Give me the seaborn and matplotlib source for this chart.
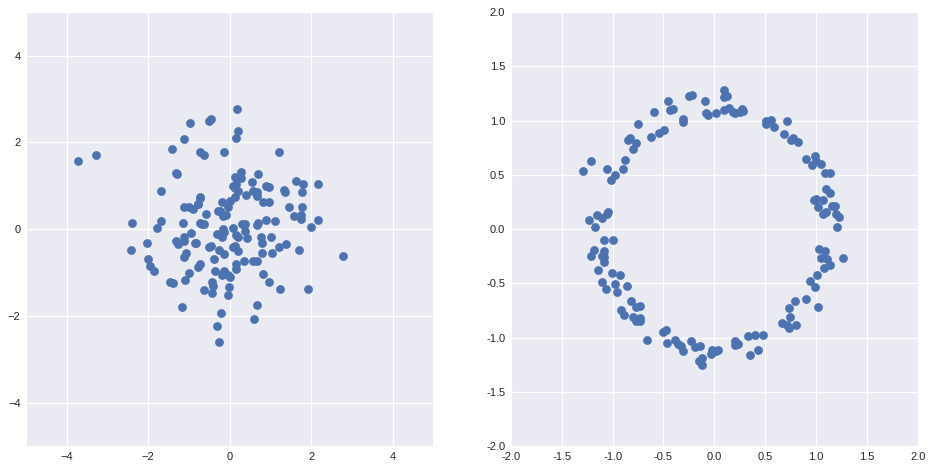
import matplotlib
matplotlib.use("Agg")
import matplotlib.pyplot as plt
import seaborn as sns

# Left panel: gaussian cloud
gauss_x = [-3.73, -3.28, -0.97, -1.12, -1.41, -0.72, -0.63, -1.33, -1.30, -1.68,
           -1.12, -1.00, -0.91, -0.79, -0.73, -2.39, -1.68, -1.14, -0.73,
           0.18, -0.52, -0.47, 0.20, 0.15, -0.14, 1.21, 0.28, 0.13, 0.28, 0.69,
           0.55, 0.08, 0.15, 0.13, 0.20, 0.39, 0.56, 0.66, 0.68, 0.88, 0.96,
           1.33, 1.36, 1.63, 1.80, 2.16, 1.77, 0.13, 0.00, -0.18, -0.05, -0.74,
           -0.78, -0.58, -0.29, -0.24, -0.16, -0.10, 0.82, 0.96, 1.45, 1.77,
           1.58, 1.76, 1.75, 2.16, 0.29, 0.37, 0.68, 0.70, 0.88, 1.11, 1.99,
           -0.69, -0.64, -0.16, -0.15, 0.07, -0.31, -0.20, -0.18, 0.15, 0.21,
           0.37, 0.43, 0.78, 0.80, 1.02, -0.83, -0.51, -0.47, -0.26, -0.14,
           0.08, 0.13, 0.21, 0.80, 1.05, 1.21, 1.38, 1.70, 2.78, -0.38, 0.35,
           0.57, 0.68, -0.74, -0.78, 0.15, 0.15, -0.36, -0.13, -0.18, -0.05,
           0.01, 0.82, 0.96, -0.44, -0.41, -0.63, -0.44, -0.02, -0.04, 1.23,
           1.92, 0.67, 0.60, -0.21, -0.31, -0.26, -1.78, -0.95, -2.03, -2.42,
           -1.33, -1.27, -1.12, -1.12, -0.85, -1.07, -1.12, -2.00, -1.95, -1.86,
           -1.00, -1.46, -1.40, -1.10, -1.17]
gauss_y = [1.58, 1.72, 2.44, 2.07, 1.84, 1.77, 1.70, 1.30, 1.28, 0.89,
           0.50, 0.50, 0.47, 0.57, 0.71, 0.15, 0.18, 0.13, 0.13,
           2.76, 2.49, 2.53, 2.26, 2.11, 1.77, 1.77, 1.31, 1.21, 1.17, 1.28,
           1.08, 1.00, 1.03, 0.95, 0.89, 0.78, 0.89, 0.86, 0.77, 1.00, 0.96,
           0.91, 0.86, 1.12, 1.03, 1.03, 0.85, 0.73, 0.65, 0.63, 0.51, 0.74,
           0.58, 0.36, 0.41, 0.41, 0.31, 0.32, 0.62, 0.62, 0.50, 0.52,
           0.30, 0.32, 0.23, 0.21, 0.12, 0.12, 0.10, 0.14, 0.22, 0.18, 0.04,
           0.12, 0.12, 0.00, -0.06, 0.02, -0.12, -0.19, -0.12, -0.14, -0.19,
           -0.04, -0.20, -0.18, -0.31, -0.19, -0.33, -0.41, -0.38, -0.49, -0.58,
           -0.42, -0.38, -0.51, -0.56, -0.56, -0.42, -0.35, -0.49, -0.61, -0.70, -0.74,
           -0.74, -0.74, -0.81, -0.88, -0.81, -0.91, -0.96, -0.96, -1.06, -1.06,
           -1.10, -1.04, -1.21, -1.21, -1.31, -1.41, -1.47, -1.34, -1.53, -1.37,
           -1.39, -1.76, -2.08, -1.94, -2.24, -2.61, 0.02, -0.08, -0.33, -0.49,
           -0.28, -0.35, -0.19, -0.27, -0.33, -0.54, -0.65, -0.68, -0.85, -0.97,
           -1.00, -1.21, -1.25, -1.18, -1.80]

# Right panel: noisy ring
ring_x = [-1.29, -1.21, -1.05, -0.98, -1.02, -0.90, -0.88, -0.80, -0.77, -0.85,
          -0.83, -0.75, -0.62, -0.59, -0.54, -0.49, -0.46, -0.44, -0.41, -0.31,
          -0.31, -0.25, -0.22, -0.09, -0.08, -0.06, 0.02, -1.23, -1.15, -1.10,
          -1.17, -1.05, -1.04, 0.09, 0.09, 0.12, 0.09, 0.14, 0.18, 0.20, 0.25,
          0.27, 0.28, 0.51, 0.56, 0.51, 0.59, 0.71, 0.68, 0.75, 0.77, 0.82,
          0.90, 0.96, 0.99, 1.00, 1.05, 1.09, 1.14, 1.10, 1.14, 0.98, 1.00,
          1.07, 1.02, 1.07, 1.10, 1.16, 1.18, 1.19, 1.22, 1.20, 1.03, 1.09,
          1.05, 1.11, 1.14, 1.08, 1.26, 1.01, 0.94, 0.99, 0.90, 0.79, 0.73,
          0.74, 1.02, 0.66, 0.71, 0.73, 0.80, 0.33, 0.40, 0.48, 0.20, 0.20,
          0.23, 0.43, 0.35, -0.03, 0.00, 0.04, -1.08, -1.00, -1.18, -1.21,
          -1.08, -1.10, -1.08, -1.08, -1.14, -1.01, -0.93, -1.10, -1.06, -0.98,
          -0.96, -0.86, -0.82, -0.77, -0.73, -0.92, -0.89, -0.80, -0.77, -0.73,
          -0.73, -0.66, -0.50, -0.48, -0.47, -0.39, -0.36, -0.33, -0.31, -0.23,
          -0.19, -0.14, -0.15, -0.12, -0.12, -0.02, 0.02]
ring_y = [0.54, 0.63, 0.55, 0.50, 0.45, 0.55, 0.64, 0.74, 0.79, 0.82,
          0.84, 0.97, 0.85, 1.08, 0.89, 0.91, 1.18, 1.10, 1.11, 1.02,
          0.99, 1.23, 1.24, 1.18, 1.07, 1.05, 1.07, 0.08, 0.13, 0.10,
          0.02, 0.14, 0.16, 1.28, 1.22, 1.23, 1.10, 1.12, 1.08, 1.07, 1.08,
          1.11, 1.09, 1.00, 1.01, 0.97, 0.94, 1.00, 0.88, 0.82, 0.84, 0.80,
          0.65, 0.59, 0.67, 0.63, 0.60, 0.52, 0.52, 0.37, 0.33, 0.27, 0.28,
          0.27, 0.20, 0.14, 0.16, 0.21, 0.21, 0.14, 0.11, 0.02, -0.18, -0.20,
          -0.27, -0.28, -0.33, -0.36, -0.27, -0.42, -0.48, -0.53, -0.64, -0.66, -0.73,
          -0.81, -0.72, -0.87, -0.88, -0.91, -0.88, -0.99, -0.98, -0.98, -1.03, -1.07,
          -1.06, -1.11, -1.16, -1.15, -1.12, -1.11, -0.10, -0.10, -0.19, -0.25,
          -0.20, -0.25, -0.26, -0.30, -0.38, -0.40, -0.42, -0.49, -0.55, -0.51,
          -0.58, -0.52, -0.66, -0.72, -0.71, -0.75, -0.79, -0.81, -0.85, -0.82,
          -0.85, -1.02, -0.95, -0.93, -1.05, -1.02, -1.06, -1.08, -1.12, -1.03,
          -1.09, -1.08, -1.22, -1.25, -1.19, -1.11, -1.12]

sns.set_style("darkgrid")
plt.rcParams["font.family"] = ["Liberation Sans", "DejaVu Sans"]

fig, (ax1, ax2) = plt.subplots(1, 2, figsize=(9.32, 4.70), dpi=100)
fig.subplots_adjust(left=0.028, right=0.985, bottom=0.051, top=0.974, wspace=0.19)

dot = "#4C72B0"
sns.scatterplot(x=gauss_x, y=gauss_y, ax=ax1, color=dot, s=40, linewidth=0)
sns.scatterplot(x=ring_x, y=ring_y, ax=ax2, color=dot, s=40, linewidth=0)

ax1.set_xlim(-5, 5)
ax1.set_ylim(-5, 5)
ax1.set_xticks([-4, -2, 0, 2, 4])
ax1.set_yticks([-4, -2, 0, 2, 4])

ax2.set_xlim(-2, 2)
ax2.set_ylim(-2, 2)
ticks = [-2.0, -1.5, -1.0, -0.5, 0.0, 0.5, 1.0, 1.5, 2.0]
ax2.set_xticks(ticks)
ax2.set_yticks(ticks)
ax2.set_xticklabels([f"{t:.1f}" for t in ticks])
ax2.set_yticklabels([f"{t:.1f}" for t in ticks])

for ax in (ax1, ax2):
    ax.tick_params(labelsize=8, colors="#262626", length=0, pad=4)

plt.savefig("out.png", dpi=100)
